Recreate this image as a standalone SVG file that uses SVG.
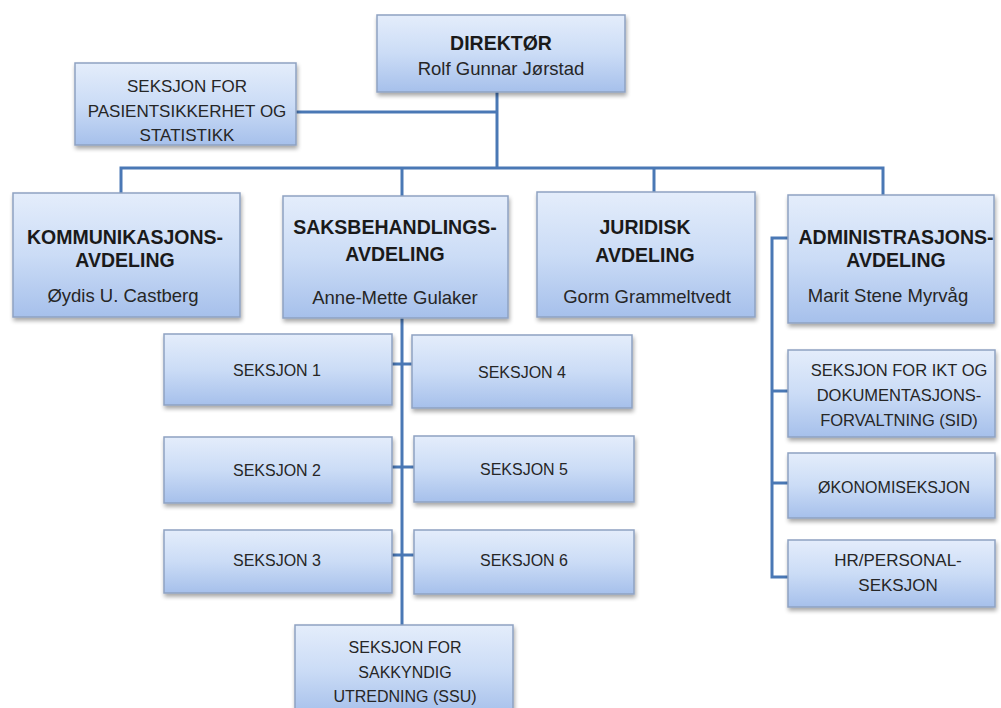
<svg xmlns="http://www.w3.org/2000/svg" width="1001" height="708" viewBox="0 0 1001 708">
<defs>
<linearGradient id="g" x1="0" y1="0" x2="0" y2="1">
<stop offset="0" stop-color="#e4edfb"/>
<stop offset="0.5" stop-color="#cbdcf6"/>
<stop offset="1" stop-color="#a6c0eb"/>
</linearGradient>
<filter id="sh" x="-5%" y="-5%" width="115%" height="125%">
<feGaussianBlur in="SourceAlpha" stdDeviation="2"/>
<feOffset dx="1" dy="3" result="b"/>
<feComponentTransfer><feFuncA type="linear" slope="0.35"/></feComponentTransfer>
<feMerge><feMergeNode/><feMergeNode in="SourceGraphic"/></feMerge>
</filter>
</defs>
<style>
.box{fill:url(#g);stroke:#8ea2c2;stroke-width:1.5;filter:url(#sh)}
.t{font-family:"Liberation Sans",Arial,sans-serif;font-size:16px;fill:#262626;text-anchor:middle}
.n{font-family:"Liberation Sans",Arial,sans-serif;font-size:18.5px;fill:#262626;text-anchor:middle}
.b{font-family:"Liberation Sans",Arial,sans-serif;font-size:19.5px;font-weight:bold;fill:#1a1a1a;text-anchor:middle}
.c{fill:none;stroke:#4a78b5;stroke-width:3}
</style>
<rect width="1001" height="708" fill="#ffffff"/>
<g id="connectors" class="c">
<path d="M497,92 V168"/>
<path d="M296,112 H497"/>
<path d="M121,193 V168 H883 V195"/>
<path d="M402,168 V196"/>
<path d="M654,168 V192"/>
<path d="M402,318 V625"/>
<path d="M392,364 H412"/>
<path d="M392,467 H414"/>
<path d="M392,555 H414"/>
<path d="M788,238 H772 V577 H788"/>
<path d="M772,391 H788"/>
<path d="M772,483 H788"/>
</g>
<g id="direktor">
<rect class="box" x="377" y="15" width="248" height="77"/>
<text class="b" x="501" y="50">DIREKTØR</text>
<text class="n" x="501" y="75">Rolf Gunnar Jørstad</text>
</g>
<g id="pasientsikkerhet">
<rect class="box" x="75" y="63" width="221" height="82"/>
<text class="t" x="187" y="92" style="font-size:17px">SEKSJON FOR</text>
<text class="t" x="187" y="117" style="font-size:17px">PASIENTSIKKERHET OG</text>
<text class="t" x="187" y="141" style="font-size:17px">STATISTIKK</text>
</g>
<g id="kommunikasjon">
<rect class="box" x="13" y="193" width="227" height="124"/>
<text class="b" x="125" y="244">KOMMUNIKASJONS-</text>
<text class="b" x="125" y="267">AVDELING</text>
<text class="n" x="123" y="302">Øydis U. Castberg</text>
</g>
<g id="saksbehandling">
<rect class="box" x="283" y="196" width="225" height="122"/>
<text class="b" x="395" y="234">SAKSBEHANDLINGS-</text>
<text class="b" x="395" y="261">AVDELING</text>
<text class="n" x="395" y="304">Anne-Mette Gulaker</text>
</g>
<g id="juridisk">
<rect class="box" x="537" y="192" width="218" height="125"/>
<text class="b" x="645" y="234">JURIDISK</text>
<text class="b" x="645" y="262">AVDELING</text>
<text class="n" x="647" y="303">Gorm Grammeltvedt</text>
</g>
<g id="administrasjon">
<rect class="box" x="788" y="195" width="206" height="128"/>
<text class="b" x="896" y="244">ADMINISTRASJONS-</text>
<text class="b" x="896" y="267">AVDELING</text>
<text class="n" x="888" y="302">Marit Stene Myrvåg</text>
</g>
<g id="seksjon1">
<rect class="box" x="164" y="334" width="228" height="71"/>
<text class="t" x="277" y="376">SEKSJON 1</text>
</g>
<g id="seksjon2">
<rect class="box" x="164" y="437" width="228" height="66"/>
<text class="t" x="277" y="476">SEKSJON 2</text>
</g>
<g id="seksjon3">
<rect class="box" x="164" y="530" width="228" height="63"/>
<text class="t" x="277" y="566">SEKSJON 3</text>
</g>
<g id="seksjon4">
<rect class="box" x="412" y="335" width="220" height="73"/>
<text class="t" x="522" y="378">SEKSJON 4</text>
</g>
<g id="seksjon5">
<rect class="box" x="414" y="436" width="220" height="66"/>
<text class="t" x="524" y="475">SEKSJON 5</text>
</g>
<g id="seksjon6">
<rect class="box" x="414" y="530" width="220" height="64"/>
<text class="t" x="524" y="566">SEKSJON 6</text>
</g>
<g id="ssu">
<rect class="box" x="295" y="625" width="218" height="90"/>
<text class="t" x="405" y="653">SEKSJON FOR</text>
<text class="t" x="405" y="678">SAKKYNDIG</text>
<text class="t" x="405" y="702">UTREDNING (SSU)</text>
</g>
<g id="sid">
<rect class="box" x="788" y="350" width="207" height="87"/>
<text class="t" x="899" y="376" style="font-size:16.5px">SEKSJON FOR IKT OG</text>
<text class="t" x="899" y="401" style="font-size:16.5px">DOKUMENTASJONS-</text>
<text class="t" x="899" y="426" style="font-size:16.5px">FORVALTNING (SID)</text>
</g>
<g id="okonomi">
<rect class="box" x="788" y="453" width="207" height="65"/>
<text class="t" x="894" y="493">ØKONOMISEKSJON</text>
</g>
<g id="hr">
<rect class="box" x="788" y="540" width="207" height="67"/>
<text class="t" x="898" y="566" style="font-size:17px">HR/PERSONAL-</text>
<text class="t" x="898" y="591" style="font-size:17px">SEKSJON</text>
</g>
</svg>
